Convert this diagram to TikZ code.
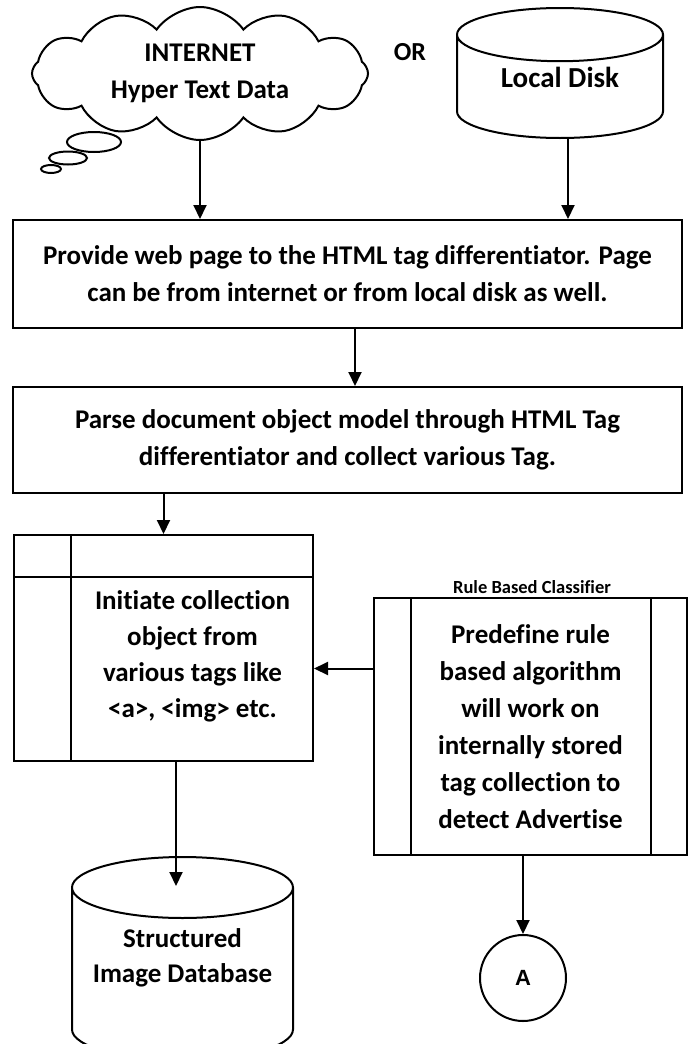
\documentclass[tikz,border=0pt]{standalone}
\usepackage{fontspec}
\setmainfont{Carlito}[Ligatures=CommonOff]
\newfontfamily\arialfont{Liberation Sans}
\usetikzlibrary{arrows.meta,positioning,shapes.geometric,shapes.symbols,calc}

\begin{document}
\begin{tikzpicture}[x=1pt,y=-1pt,line width=2pt,
  arr/.style={-{Triangle[length=14pt,width=13pt]}},
  txt/.style={font=\fontsize{27}{37}\selectfont\bfseries,align=center},
  stepbox/.style={draw,txt,minimum width=669pt,inner sep=0pt},
  dbase/.style={draw,cylinder,shape border rotate=90,inner sep=0pt,anchor=shape center},
  bubble/.style={draw,ellipse,inner sep=0pt}]
  \useasboundingbox (0,0) rectangle (691,1044);
  % sources of the page
  \node[draw,cloud,cloud puffs=12,cloud puff arc=110,cloud ignores aspect,inner sep=0pt,minimum width=336pt,minimum height=133pt] (web) at (200,73.5) {};
  \node[txt] (webtxt) at (200,73.5) {INTERNET\\Hyper Text Data};
  \node[bubble,minimum width=54pt,minimum height=20pt] (bubA) at (94,142) {};
  \node[bubble,minimum width=38pt,minimum height=13pt] (bubB) at (68,158) {};
  \node[bubble,minimum width=20pt,minimum height=8pt] (bubC) at (51,169) {};
  \node[font=\fontsize{26}{30}\selectfont\bfseries] (or) at (410,52) {OR};
  \node[dbase,aspect=0.45,minimum width=206pt,minimum height=130pt,font=\fontsize{29}{34}\selectfont\bfseries] (disk) at (560,73) {\phantom{Local Disk}};
  \node[font=\fontsize{29}{34}\selectfont\bfseries] (disktxt) at (560,77) {Local Disk};
  % main steps
  \node[stepbox,minimum height=108pt] (prov) at (347.5,274) {Provide web page to the HTML tag differentiator. Page\\can be from internet or from local disk as well.};
  \node[stepbox,minimum height=106pt] (parse) at (347.5,440) {Parse document object model through HTML Tag\\differentiator and collect various Tag.};
  % internal storage
  \node[draw,minimum width=299pt,minimum height=226pt] (store) at (163.5,648) {};
  \draw ([xshift=58pt]store.north west) -- ([xshift=58pt]store.south west);
  \draw ([yshift=-43pt]store.north west) -- ([yshift=-43pt]store.north east);
  \node[txt,font=\fontsize{27}{36}\selectfont\bfseries] (storetxt) at (192.5,656.5) {Initiate collection\\object from\\various tags like\\<a>, <img> etc.};
  % classifier
  \node[font=\fontsize{18.5}{20}\selectfont\bfseries] (rulelbl) at (532,587) {Rule Based Classifier};
  \node[draw,txt,minimum width=313pt,minimum height=257pt] (rule) at (530.5,726.5) {Predefine rule\\based algorithm\\will work on\\internally stored\\tag collection to\\detect Advertise};
  \draw ([xshift=38pt]rule.north west) -- ([xshift=38pt]rule.south west);
  \draw ([xshift=-37pt]rule.north east) -- ([xshift=-37pt]rule.south east);
  % outputs
  \node[dbase,aspect=0.34,minimum width=221pt,minimum height=203pt,font=\fontsize{27}{35}\selectfont\bfseries] (db) at (182.5,958.5) {\phantom{Image Database}};
  \node[txt,font=\fontsize{27}{35}\selectfont\bfseries] (dbtxt) at (182.5,958) {Structured\\Image Database};
  \node[draw,circle,minimum size=86pt,inner sep=0pt,font=\fontsize{22}{24}\selectfont\arialfont\bfseries] (conA) at (523,978) {A};
  % connectors
  \draw[arr] (web.south) -- (web.south |- prov.north);
  \draw[arr] ([xshift=8pt]disk.south) -- ([xshift=8pt]disk.south |- prov.north);
  \draw[arr] ([xshift=7.5pt]prov.south) -- ([xshift=7.5pt]parse.north);
  \draw[arr] (parse.south -| store.north) -- (store.north);
  \coordinate (ruleIn) at ([yshift=58pt]rule.west);
  \draw[arr] (ruleIn) -- (ruleIn -| store.east);
  \coordinate (storeOut) at ([xshift=12.5pt]store.south);
  \draw[arr] (storeOut) -- ($(storeOut |- db.north)+(0,30)$);
  \draw[arr] (conA.north |- rule.south) -- (conA.north);
\end{tikzpicture}
\end{document}
